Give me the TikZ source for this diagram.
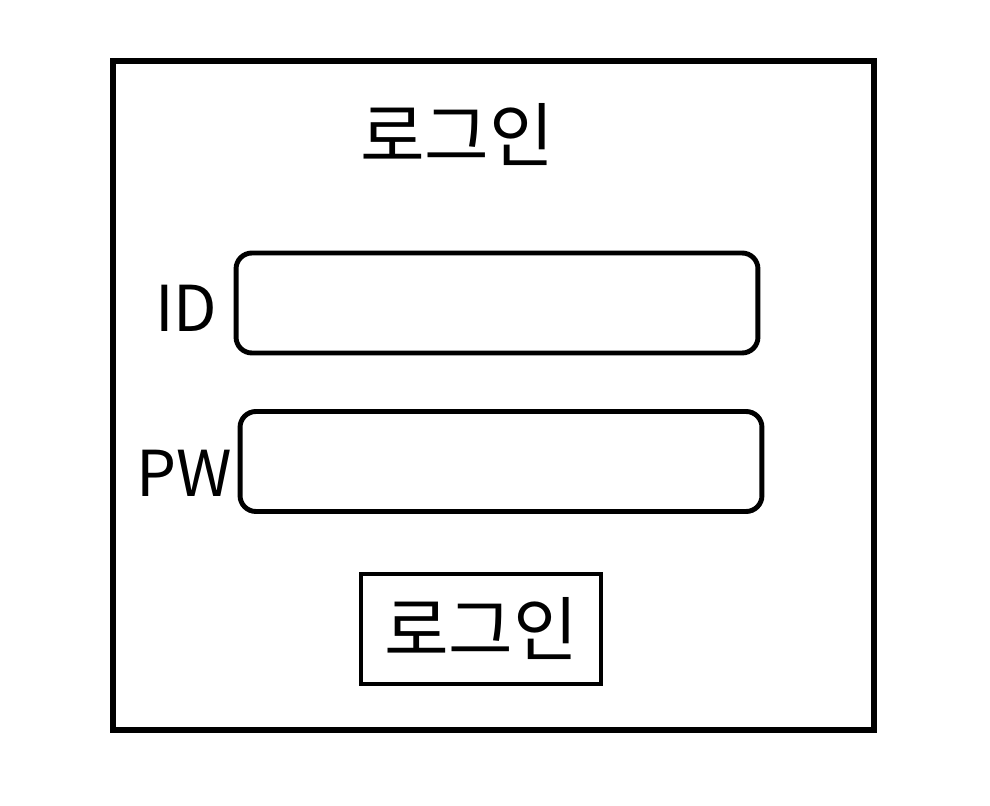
\documentclass[tikz,border=0pt]{standalone}
\usepackage{fontspec}
\setmainfont{Noto Sans CJK KR}
\usetikzlibrary{positioning}
\tikzset{
  frame/.style={draw,line width=3pt},
  inputbox/.style={draw,line width=2.8pt,rounded corners=9pt,minimum width=10.44cm,minimum height=2cm},
  btnbox/.style={draw,line width=2.8pt,minimum width=4.8cm,minimum height=2.2cm,font=\fontsize{40}{46}\selectfont},
  lbl/.style={font=\fontsize{36}{42}\selectfont,inner sep=0pt},
  ttl/.style={font=\fontsize{40}{46}\selectfont,inner sep=0pt}
}
\begin{document}
\begin{tikzpicture}[x=0.02cm,y=0.02cm]
    \useasboundingbox (0,0) rectangle (990,805);
    \draw[frame] (113,744) rectangle (874,75);
    \node[ttl] (title) at (457,670) {로그인};
    \node[inputbox] (idbox) at (497,502) {};
    \node[inputbox] (pwbox) at (501,343.5) {};
    \node[lbl,left=9pt of idbox,yshift=-3pt] (idlbl) {ID};
    \node[lbl,left=3pt of pwbox,yshift=-6.5pt] (pwlbl) {PW};
    \node[btnbox] (login) at (481,176) {\raisebox{-2pt}{로그인}};
\end{tikzpicture}
\end{document}
